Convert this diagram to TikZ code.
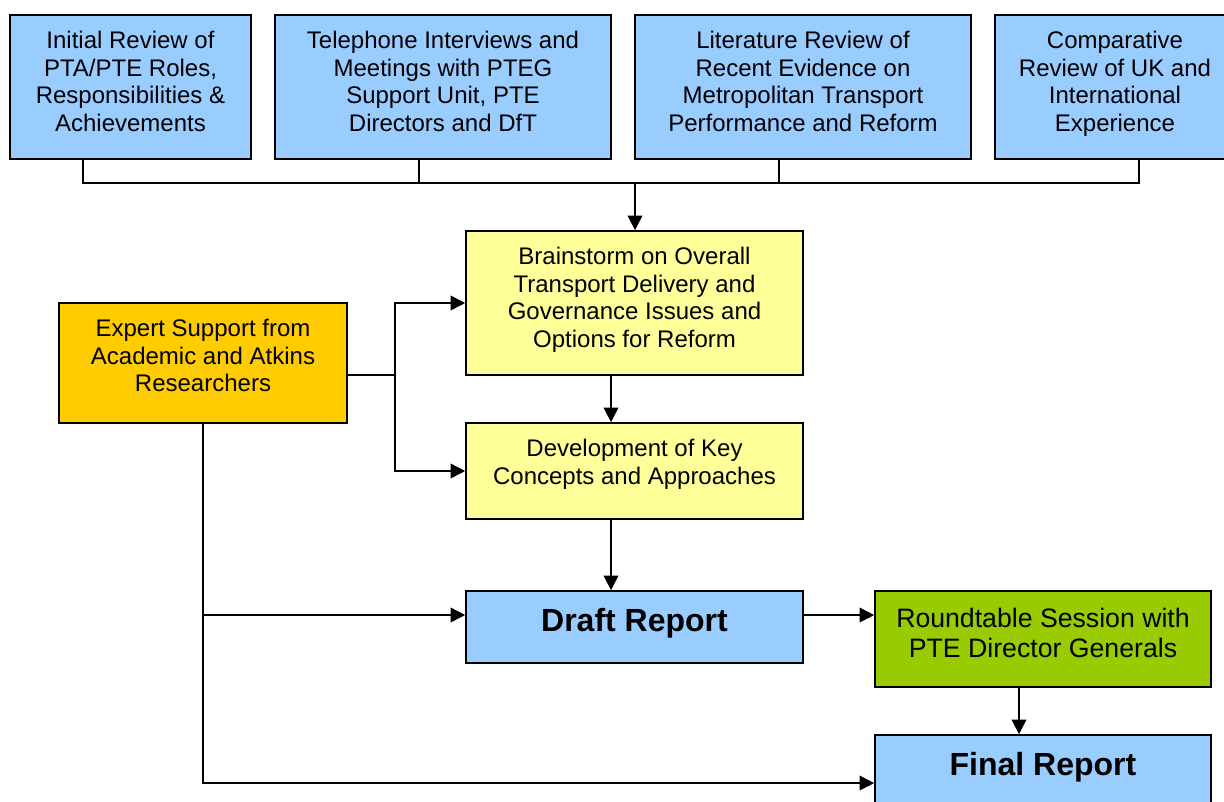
\documentclass[tikz,border=0pt]{standalone}
\usepackage{fontspec}
\setmainfont{Liberation Sans}
\usetikzlibrary{arrows.meta}
\definecolor{boxblue}{HTML}{99CCFF}
\definecolor{boxyellow}{HTML}{FFFF99}
\definecolor{boxorange}{HTML}{FFCC00}
\definecolor{boxgreen}{HTML}{99CC00}
% lines hung from the top of a box of height #1: first baseline sits
% a fixed inset plus the font's ascent below the top edge
\newcommand{\toplines}[2]{\raisebox{-\dimexpr 9pt+0.905em\relax}[0pt][#1]{%
  \begin{tabular}[t]{@{}c@{}}#2\end{tabular}}}
\tikzset{
  box/.style={draw=black, line width=1.2pt, rectangle, inner sep=0pt,
    font=\fontsize{18}{20.7}\selectfont},
  midbox/.style={box, font=\fontsize{20}{23}\selectfont},
  bigbox/.style={box, font=\fontsize{24}{27.6}\selectfont\bfseries},
  link/.style={draw=black, line width=1.2pt},
  arr/.style={link, -{Triangle[length=11pt, width=11pt]}},
}
\begin{document}
\begin{tikzpicture}[x=0.75pt, y=-0.75pt]
\useasboundingbox (0,0) rectangle (1224,801);

% source activities
\node[box, fill=boxblue, minimum width=180.75pt, minimum height=108pt] (b1) at (130.5,87)
  {\toplines{108pt}{Initial Review of\\PTA/PTE Roles,\\Responsibilities \&\\Achievements}};
\node[box, fill=boxblue, minimum width=252pt, minimum height=108pt] (b2) at (443,87)
  {\toplines{108pt}{Telephone Interviews and\\Meetings with PTEG\\Support Unit, PTE\\Directors and DfT}};
\node[box, fill=boxblue, minimum width=252pt, minimum height=108pt] (b3) at (803,87)
  {\toplines{108pt}{Literature Review of\\Recent Evidence on\\Metropolitan Transport\\Performance and Reform}};
\node[box, fill=boxblue, minimum width=180pt, minimum height=108pt] (b4) at (1115,87)
  {\toplines{108pt}{Comparative\\Review of UK and\\International\\Experience}};

% core process
\node[box, fill=boxyellow, minimum width=252.75pt, minimum height=108pt] (brain) at (634.5,303)
  {\toplines{108pt}{Brainstorm on Overall\\Transport Delivery and\\Governance Issues and\\Options for Reform}};
\node[box, fill=boxorange, minimum width=216pt, minimum height=90pt] (expert) at (203,363)
  {\toplines{90pt}{Expert Support from\\Academic and Atkins\\Researchers}};
\node[box, fill=boxyellow, minimum width=252.75pt, minimum height=72pt] (dev) at (634.5,471)
  {\toplines{72pt}{Development of Key\\Concepts and Approaches}};
\node[bigbox, fill=boxblue, minimum width=252.75pt, minimum height=54pt] (draft) at (634.5,627)
  {\toplines{54pt}{Draft Report}};
\node[midbox, fill=boxgreen, minimum width=252pt, minimum height=72pt] (round) at (1043,639)
  {\toplines{72pt}{Roundtable Session with\\PTE Director Generals}};
\node[bigbox, fill=boxblue, minimum width=252pt, minimum height=54pt] (final) at (1043,771)
  {\toplines{54pt}{Final Report}};

% collecting bus under the source activities
\coordinate (j1) at (83,183);
\coordinate (j2) at (419,183);
\coordinate (j3) at (779,183);
\coordinate (j4) at (1139,183);
\coordinate (jm) at (635,183);
\draw[link] (b1.south -| j1) -- (j1) -- (j4) -- (b4.south -| j4);
\draw[link] (b2.south -| j2) -- (j2);
\draw[link] (b3.south -| j3) -- (j3);
\draw[arr] (jm) -- (brain.north -| jm);

% expert support feeds
\coordinate (e1) at (395,375);
\coordinate (e2) at (203,783);
\coordinate (e3) at (203,615);
\draw[link] (expert.east |- e1) -- (e1);
\draw[arr] (e1) |- (brain.west);
\draw[arr] (e1) |- (dev.west);
\draw[arr] (expert.south) -- (e2) -- (final.west |- e2);
\draw[arr] (e3) -- (draft.west |- e3);

% main sequence
\coordinate (s1) at (611,0);
\draw[arr] (brain.south -| s1) -- (dev.north -| s1);
\draw[arr] (dev.south -| s1) -- (draft.north -| s1);
\draw[arr] (draft.east |- e3) -- (round.west |- e3);
\coordinate (s2) at (1019,0);
\draw[arr] (round.south -| s2) -- (final.north -| s2);
\end{tikzpicture}
\end{document}
